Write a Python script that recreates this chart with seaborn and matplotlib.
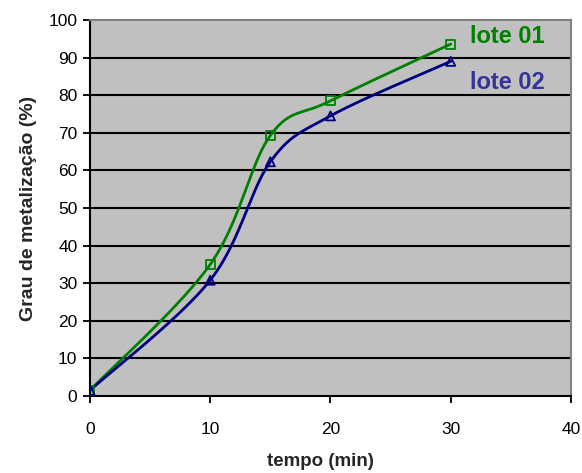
import numpy as np
import pandas as pd
import matplotlib
matplotlib.use("Agg")
import matplotlib.pyplot as plt
import seaborn as sns

# measured metallization degree over time for two batches
tempo = [0, 10, 15, 20, 30]
lote_01 = [1.5, 35.0, 69.3, 78.5, 93.6]
lote_02 = [1.5, 30.8, 62.3, 74.5, 89.0]
series_names = ["lote 01", "lote 02"]
x_ticks = [0, 10, 20, 30, 40]
y_ticks = [0, 10, 20, 30, 40, 50, 60, 70, 80, 90, 100]


def smooth_path(xs, ys, n=40):
    """Bezier smoothing through the points (Catmull-Rom style control points)."""
    p = np.column_stack([xs, ys]).astype(float)
    out = []
    for i in range(len(p) - 1):
        p0 = p[i - 1] if i > 0 else p[i]
        p1, p2 = p[i], p[i + 1]
        p3 = p[i + 2] if i + 2 < len(p) else p[i + 1]
        c1 = p1 + (p2 - p0) / 6.0
        c2 = p2 - (p3 - p1) / 6.0
        t = np.linspace(0, 1, n, endpoint=(i == len(p) - 2))[:, None]
        seg = ((1 - t) ** 3) * p1 + 3 * ((1 - t) ** 2) * t * c1 + 3 * (1 - t) * t ** 2 * c2 + t ** 3 * p2
        out.append(seg)
    out = np.vstack(out)
    return out[:, 0], out[:, 1]


sns.set_theme(style="white")
plt.rcParams["font.family"] = ["Liberation Sans", "DejaVu Sans"]

fig = plt.figure(figsize=(5.82, 4.73), dpi=100)
ax = fig.add_axes([0.1546, 0.1628, 0.8265, 0.7949])
ax.set_facecolor("#C0C0C0")

colors = {"lote 01": "#008000", "lote 02": "#000080"}
markers = {"lote 01": "s", "lote 02": "^"}

for name, vals in zip(series_names, [lote_01, lote_02]):
    sx, sy = smooth_path(tempo, vals)
    curve = pd.DataFrame({"t": sx, "v": sy})
    sns.lineplot(data=curve, x="t", y="v", sort=False, color=colors[name],
                 linewidth=2.0, ax=ax, zorder=3)
    pts = pd.DataFrame({"t": tempo, "v": vals})
    sns.scatterplot(data=pts, x="t", y="v", marker=markers[name], s=42,
                    facecolor="none", edgecolor=colors[name], linewidth=1.3,
                    ax=ax, zorder=4)

ax.set_xlim(0, 40)
ax.set_ylim(0, 100)
ax.set_xticks(x_ticks)
ax.set_yticks(y_ticks)
ax.set_xticklabels([str(v) for v in x_ticks])
ax.set_yticklabels([str(v) for v in y_ticks])

ax.grid(False)
for yv in y_ticks[1:-1]:
    ax.axhline(yv, color="black", linewidth=1.5, zorder=1)

for side in ["top", "right"]:
    ax.spines[side].set_color("#808080")
    ax.spines[side].set_linewidth(1.5)
for side in ["left", "bottom"]:
    ax.spines[side].set_color("black")
    ax.spines[side].set_linewidth(1.5)

ax.tick_params(axis="both", which="both", direction="out", length=5, width=1.3,
               color="black", labelsize=12.5, labelcolor="black",
               left=True, bottom=True)
ax.tick_params(axis="x", pad=14)
ax.tick_params(axis="y", pad=4)

ax.set_xlabel("tempo (min)", fontsize=13.5, fontweight="bold")
ax.xaxis.set_label_coords(0.48, -0.152)
ax.set_ylabel("Grau de metalização (%)", fontsize=14, fontweight="bold", labelpad=8)

ax.text(31.6, 95.5, "lote 01", color="#008000", fontsize=17, fontweight="bold",
        ha="left", va="center", zorder=5)
ax.text(31.6, 83.5, "lote 02", color="#333399", fontsize=17, fontweight="bold",
        ha="left", va="center", zorder=5)

fig.savefig("out.png", dpi=100)
